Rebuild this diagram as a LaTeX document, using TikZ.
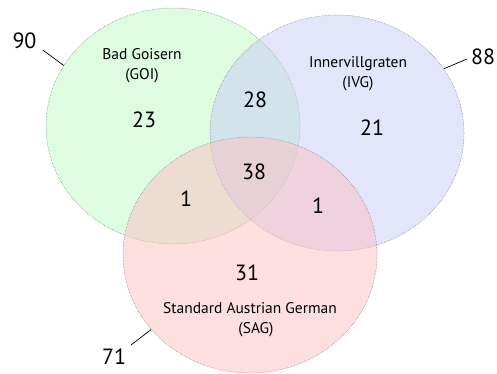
\documentclass[tikz,border=0pt]{standalone}
\usepackage{fontspec}
\setmainfont{PT Sans}
\usetikzlibrary{shapes.geometric}
\definecolor{gfill}{RGB}{187,249,193}
\definecolor{bfill}{RGB}{199,203,247}
\definecolor{pfill}{RGB}{253,191,193}
\definecolor{rim}{RGB}{120,120,120}
\tikzset{
  venn/.style={ellipse, minimum width=254pt, minimum height=236pt, inner sep=0pt,
    fill opacity=0.5, draw=rim, densely dotted, line width=0.5pt},
  lbl/.style={font=\fontsize{15.5}{18}\selectfont, align=center, inner sep=0pt},
  num/.style={font=\fontsize{22}{24}\selectfont, inner sep=0pt},
  lead/.style={line width=0.7pt, black}
}
\begin{document}
\begin{tikzpicture}[x=1pt,y=-1pt]
\useasboundingbox (0,0) rectangle (497,373);
\node[venn, fill=gfill] (goi) at (173,126) {};
\node[venn, fill=bfill] (ivg) at (337,133) {};
\node[venn, fill=pfill] (sag) at (250,255) {};

\node[lbl] (tgoi) at (142,66) {Bad Goisern\\[2pt](GOI)};
\node[lbl] (tivg) at (358,73.5) {Innervillgraten\\[2pt](IVG)};
\node[lbl] (tsag) at (250,320) {Standard Austrian German\\[2pt]\hspace*{12pt}(SAG)};

\node[num] (n23) at (144,120) {23};
\node[num] (n21) at (372,128) {21};
\node[num] (n28) at (255,100) {28};
\node[num] (n38) at (254,172) {38};
\node[num] (n1a) at (186,199) {1};
\node[num] (n1b) at (318,206) {1};
\node[num] (n31) at (247,273) {31};

\node[num] (n90) at (24.5,41) {90};
\node[num] (n88) at (483,57) {88};
\node[num] (n71) at (114,357) {71};

\coordinate (l90) at (42.7,50);
\coordinate (l88) at (467,59);
\coordinate (l71) at (131,345);
\draw[lead] (l90) -- (goi.151);
\draw[lead] (l88) -- (ivg.31);
\draw[lead] (l71) -- (sag.217);
\end{tikzpicture}
\end{document}
